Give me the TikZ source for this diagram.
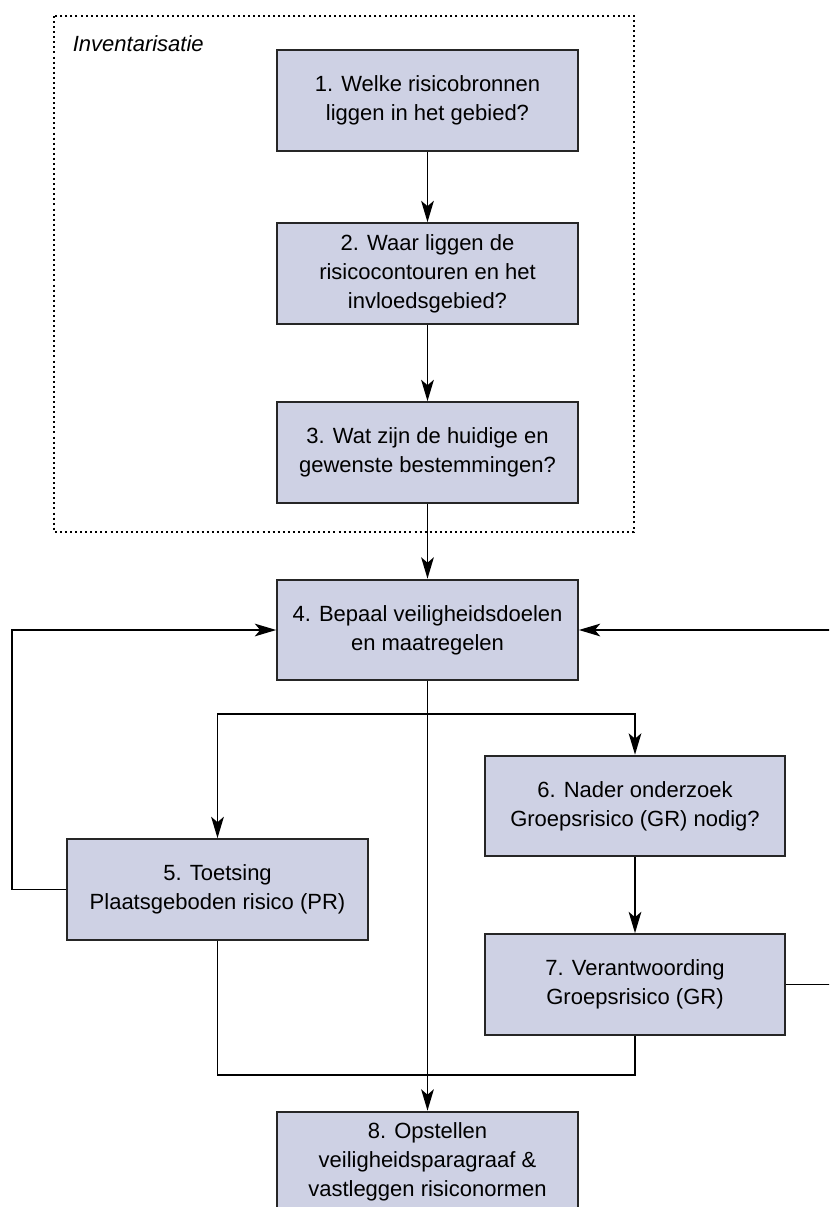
\documentclass[tikz,border=0pt]{standalone}
\usepackage{fontspec}
\setmainfont{Liberation Sans}
\usetikzlibrary{arrows.meta}
\definecolor{boxfill}{RGB}{206,209,228}

\begin{document}
\begin{tikzpicture}[x=0.75pt, y=-0.75pt, >={Stealth[length=16pt, width=9.5pt, inset=4pt]},
    line width=1.3pt,
    every node/.style={font=\fontsize{16.5}{21.75}\selectfont},
    stepbox/.style={draw=black!85, line width=1.5pt, fill=boxfill, rectangle, align=center,
        minimum width=225.5pt, minimum height=75.5pt, inner sep=0pt}]
            \clip (0,0) rectangle (829,1207);
            \useasboundingbox (0,0) rectangle (829,1207);

            % Inventory frame
            \draw[line width=1.5pt, dash pattern=on 1.5pt off 2.3pt] (54,16) rectangle (634,532);
            \node[anchor=west, inner sep=0pt] at (72,44) (inv) {\itshape Inventarisatie};

            % Nodes
            \node[stepbox] at (427.5, 100.5) (b1) {1. Welke risicobronnen\\liggen in het gebied?};
            \node[stepbox] at (427.5, 273.5) (b2) {2. Waar liggen de\\risicocontouren en het\\invloedsgebied?};
            \node[stepbox] at (427.5, 452.5) (b3) {3. Wat zijn de huidige en\\gewenste bestemmingen?};
            \node[stepbox] at (427.5, 630) (b4) {4. Bepaal veiligheidsdoelen\\en maatregelen};
            \node[stepbox] at (217.5, 889.5) (b5) {5. Toetsing\\Plaatsgeboden risico (PR)};
            \node[stepbox] at (635, 806) (b6) {6. Nader onderzoek\\Groepsrisico (GR) nodig?};
            \node[stepbox] at (635, 984.5) (b7) {7. Verantwoording\\Groepsrisico (GR)};
            \node[stepbox] at (427.5, 1162) (b8) {8. Opstellen\\veiligheidsparagraaf \&\\vastleggen risiconormen};

            \coordinate (split) at (427.5, 714);
            \coordinate (join) at (427.5, 1075);
            \coordinate (leftloop) at (12, 889.5);
            \coordinate (rightloop) at (832, 984.5);

            % Edges
            \draw[->] (b1) -- (b2);
            \draw[->] (b2) -- (b3);
            \draw[->] (b3) -- (b4);
            \draw[->] (b4) -- (b8);
            \draw[->] (split) -| (b5);
            \draw[->] (split) -| (b6);
            \draw[->] (b6) -- (b7);
            \draw (b5.south) |- (join) -| (b7.south);

            % Loops back
            \draw[->] (b5.west) -- (leftloop) |- (b4.west);
            \draw[->] (b7.east) -- (rightloop) |- (b4.east);
        \end{tikzpicture}
\end{document}
